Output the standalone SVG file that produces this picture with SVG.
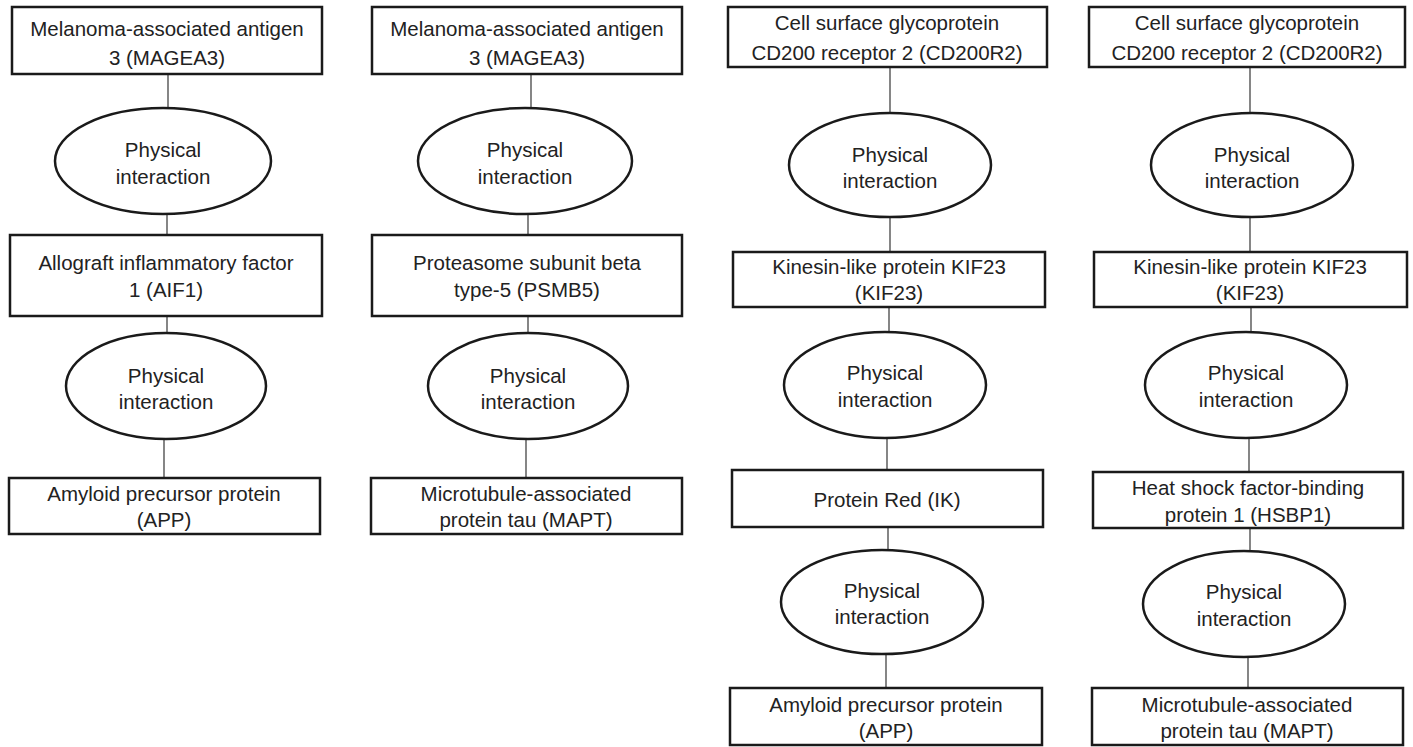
<svg xmlns="http://www.w3.org/2000/svg" width="1413" height="747" viewBox="0 0 1413 747">
<style>
.box{fill:#fff;stroke:#1a1a1a;stroke-width:2.5}
.ell{fill:#fff;stroke:#1a1a1a;stroke-width:2.5}
.ln{stroke:#444;stroke-width:1.3;fill:none}
text{font-family:"Liberation Sans",Arial,sans-serif;font-size:20.5px;fill:#222;text-anchor:middle}
</style>
<rect width="1413" height="747" fill="#fff"/>
<g id="connectors">
<line class="ln" x1="168" y1="74" x2="168" y2="108"/>
<line class="ln" x1="167" y1="215" x2="167" y2="235"/>
<line class="ln" x1="167" y1="316" x2="167" y2="333"/>
<line class="ln" x1="164" y1="440" x2="164" y2="478"/>
<line class="ln" x1="531" y1="74" x2="531" y2="108"/>
<line class="ln" x1="528" y1="215" x2="528" y2="235"/>
<line class="ln" x1="528" y1="316" x2="528" y2="333"/>
<line class="ln" x1="526" y1="440" x2="526" y2="478"/>
<line class="ln" x1="890" y1="67" x2="890" y2="113"/>
<line class="ln" x1="890" y1="218" x2="890" y2="252"/>
<line class="ln" x1="889" y1="307" x2="889" y2="332"/>
<line class="ln" x1="887" y1="438" x2="887" y2="470"/>
<line class="ln" x1="888" y1="527" x2="888" y2="550"/>
<line class="ln" x1="886" y1="655" x2="886" y2="688"/>
<line class="ln" x1="1250" y1="67" x2="1250" y2="113"/>
<line class="ln" x1="1250" y1="218" x2="1250" y2="252"/>
<line class="ln" x1="1251" y1="307" x2="1251" y2="332"/>
<line class="ln" x1="1249" y1="438" x2="1249" y2="472"/>
<line class="ln" x1="1250" y1="528" x2="1250" y2="551"/>
<line class="ln" x1="1248" y1="657" x2="1248" y2="688"/>
</g>
<!-- Column 1 -->
<g id="c1-magea3"><rect class="box" x="12" y="7" width="310" height="67"/><text x="167" y="36">Melanoma-associated antigen</text><text x="167" y="65">3 (MAGEA3)</text></g>
<g id="c1-pi1"><ellipse class="ell" cx="163" cy="161" rx="108" ry="53"/><text x="163" y="157">Physical</text><text x="163" y="184">interaction</text></g>
<g id="c1-aif1"><rect class="box" x="10" y="235" width="312" height="81"/><text x="166" y="270">Allograft inflammatory factor</text><text x="166" y="297">1 (AIF1)</text></g>
<g id="c1-pi2"><ellipse class="ell" cx="166" cy="386" rx="100" ry="53"/><text x="166" y="383">Physical</text><text x="166" y="409">interaction</text></g>
<g id="c1-app"><rect class="box" x="9" y="478" width="311" height="56"/><text x="164" y="501">Amyloid precursor protein</text><text x="164" y="527">(APP)</text></g>
<!-- Column 2 -->
<g id="c2-magea3"><rect class="box" x="372" y="7" width="310" height="67"/><text x="527" y="36">Melanoma-associated antigen</text><text x="527" y="65">3 (MAGEA3)</text></g>
<g id="c2-pi1"><ellipse class="ell" cx="525" cy="161" rx="107" ry="53"/><text x="525" y="157">Physical</text><text x="525" y="184">interaction</text></g>
<g id="c2-psmb5"><rect class="box" x="372" y="235" width="310" height="81"/><text x="527" y="270">Proteasome subunit beta</text><text x="527" y="297">type-5 (PSMB5)</text></g>
<g id="c2-pi2"><ellipse class="ell" cx="528" cy="386" rx="100" ry="53"/><text x="528" y="383">Physical</text><text x="528" y="409">interaction</text></g>
<g id="c2-mapt"><rect class="box" x="371" y="478" width="311" height="56"/><text x="526" y="501">Microtubule-associated</text><text x="526" y="527">protein tau (MAPT)</text></g>
<!-- Column 3 -->
<g id="c3-cd200r2"><rect class="box" x="728" y="7" width="319" height="60"/><text x="887" y="30">Cell surface glycoprotein</text><text x="887" y="60">CD200 receptor 2 (CD200R2)</text></g>
<g id="c3-pi1"><ellipse class="ell" cx="890" cy="165" rx="101" ry="52"/><text x="890" y="162">Physical</text><text x="890" y="188">interaction</text></g>
<g id="c3-kif23"><rect class="box" x="733" y="252" width="312" height="55"/><text x="889" y="274">Kinesin-like protein KIF23</text><text x="889" y="300">(KIF23)</text></g>
<g id="c3-pi2"><ellipse class="ell" cx="885" cy="385" rx="101" ry="53"/><text x="885" y="380">Physical</text><text x="885" y="407">interaction</text></g>
<g id="c3-ik"><rect class="box" x="732" y="470" width="311" height="57"/><text x="887" y="507">Protein Red (IK)</text></g>
<g id="c3-pi3"><ellipse class="ell" cx="882" cy="602" rx="101" ry="52"/><text x="882" y="598">Physical</text><text x="882" y="624">interaction</text></g>
<g id="c3-app"><rect class="box" x="730" y="688" width="312" height="57"/><text x="886" y="712">Amyloid precursor protein</text><text x="886" y="738">(APP)</text></g>
<!-- Column 4 -->
<g id="c4-cd200r2"><rect class="box" x="1089" y="7" width="316" height="60"/><text x="1247" y="30">Cell surface glycoprotein</text><text x="1247" y="60">CD200 receptor 2 (CD200R2)</text></g>
<g id="c4-pi1"><ellipse class="ell" cx="1252" cy="165" rx="101" ry="52"/><text x="1252" y="162">Physical</text><text x="1252" y="188">interaction</text></g>
<g id="c4-kif23"><rect class="box" x="1094" y="252" width="313" height="55"/><text x="1250" y="274">Kinesin-like protein KIF23</text><text x="1250" y="300">(KIF23)</text></g>
<g id="c4-pi2"><ellipse class="ell" cx="1246" cy="385" rx="101" ry="53"/><text x="1246" y="380">Physical</text><text x="1246" y="407">interaction</text></g>
<g id="c4-hsbp1"><rect class="box" x="1093" y="472" width="310" height="56"/><text x="1248" y="495">Heat shock factor-binding</text><text x="1248" y="522">protein 1 (HSBP1)</text></g>
<g id="c4-pi3"><ellipse class="ell" cx="1244" cy="604" rx="101" ry="53"/><text x="1244" y="599">Physical</text><text x="1244" y="626">interaction</text></g>
<g id="c4-mapt"><rect class="box" x="1092" y="688" width="311" height="57"/><text x="1247" y="712">Microtubule-associated</text><text x="1247" y="738">protein tau (MAPT)</text></g>
</svg>
